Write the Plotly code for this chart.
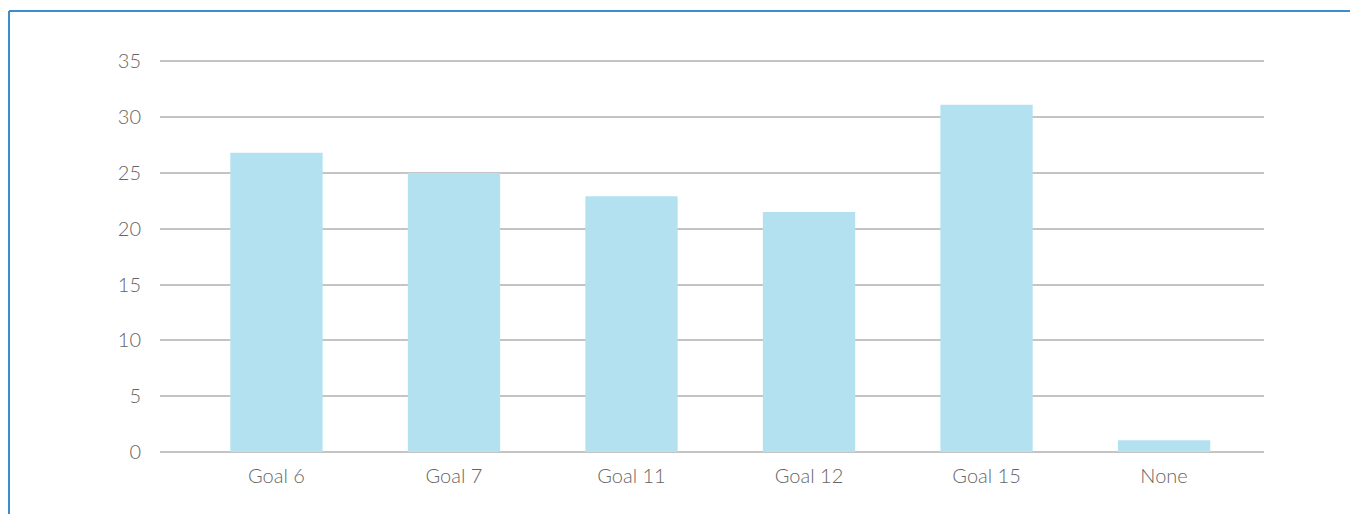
import plotly.graph_objects as go

categories = ["Goal 6", "Goal 7", "Goal 11", "Goal 12", "Goal 15", "None"]
values = [26.8, 25.0, 22.9, 21.5, 31.1, 1.05]
y_ticks = [0, 5, 10, 15, 20, 25, 30, 35]

fig = go.Figure()
fig.add_trace(go.Bar(
    x=list(range(len(categories))), y=values,
    marker=dict(color="#b4e1f0", line=dict(width=0)),
    width=0.52,
))

font_family = "Lato"
W, H = 1350, 506
ml, mr, mt, mb = 152, 94, 51, 62
pw, ph = W - ml - mr, H - mt - mb

fig.update_layout(
    width=W, height=H,
    margin=dict(l=ml, r=mr, t=mt, b=mb),
    plot_bgcolor="white", paper_bgcolor="white",
    showlegend=False,
    xaxis=dict(
        range=[-0.656, 5.563],
        tickmode="array", tickvals=list(range(len(categories))), ticktext=categories,
        showgrid=False, zeroline=False, showline=False,
        ticks="outside", ticklen=6, tickcolor="rgba(0,0,0,0)",
        tickfont=dict(family=font_family, size=20, color="#666666", weight=300),
    ),
    yaxis=dict(
        range=[0, 35.2], tickmode="array", tickvals=y_ticks,
        showgrid=True, gridcolor="#c4c4c4", gridwidth=2,
        zeroline=True, zerolinecolor="#c4c4c4", zerolinewidth=2,
        showline=False,
        ticks="outside", ticklen=14, tickcolor="rgba(0,0,0,0)",
        tickfont=dict(family=font_family, size=20, color="#666666", weight=300),
    ),
    shapes=[
        dict(type="line", xref="paper", yref="paper",
             x0=-(ml - 1) / pw, x1=1.2, y0=1 + (mt - 3) / ph, y1=1 + (mt - 3) / ph,
             line=dict(color="#3d8ccc", width=2)),
        dict(type="line", xref="paper", yref="paper",
             x0=-(ml - 1) / pw, x1=-(ml - 1) / pw, y0=1 + (mt - 3) / ph, y1=-0.3,
             line=dict(color="#3d8ccc", width=2)),
    ],
)

fig.write_html("out.html")
